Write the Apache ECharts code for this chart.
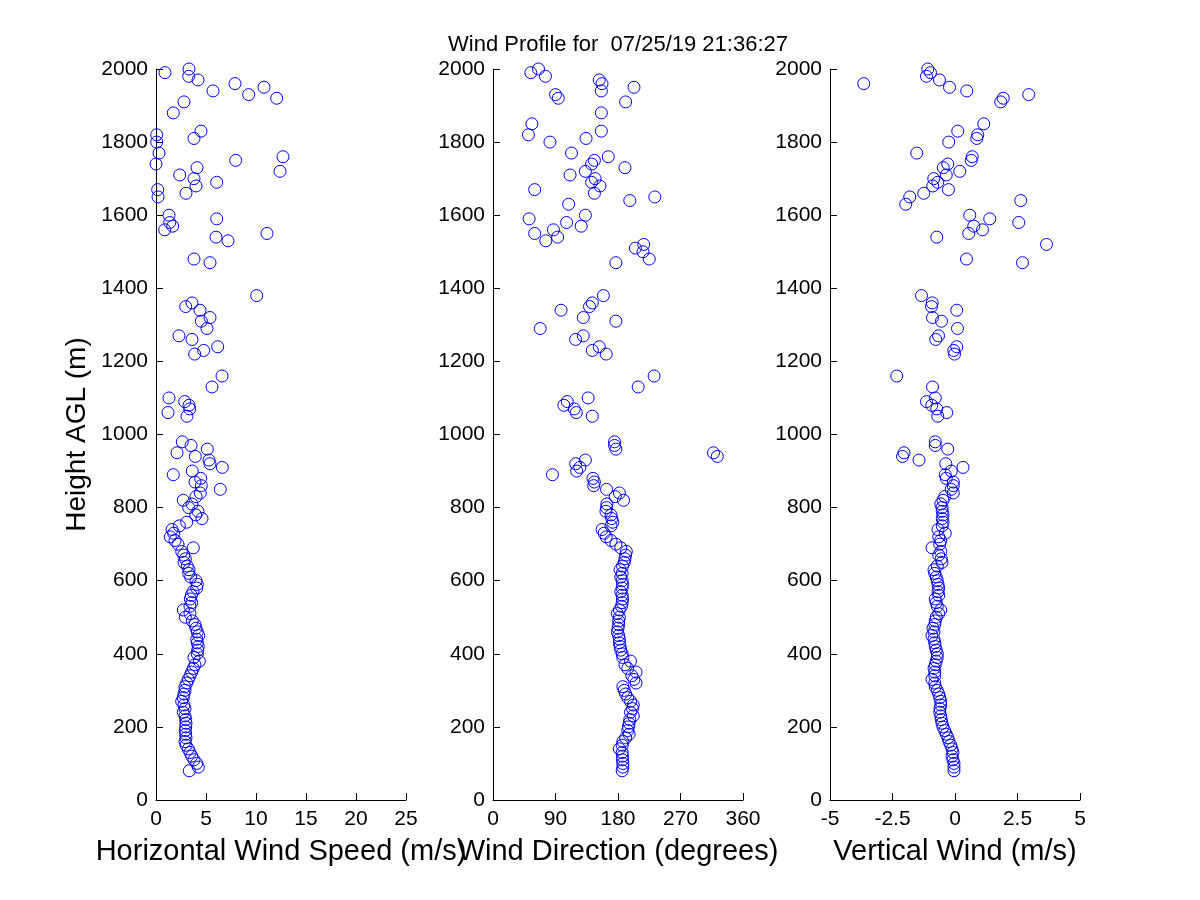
<!DOCTYPE html>
<html>
<head>
<meta charset="utf-8">
<script src="https://cdn.jsdelivr.net/npm/echarts@6/dist/echarts.min.js"></script>
<style>
html,body{margin:0;padding:0;background:#fff;}
#chart{width:1200px;height:900px;}
</style>
</head>
<body>
<div id="chart"></div>
<script>
// Heights (m AGL) of each measured gate
const heights = [
  2000,1990,1980,1970,1960,1950,1940,1930,1920,1910,
  1880,1850,1830,1820,1810,1800,
  1770,1760,1750,1740,1730,1720,1710,1700,1690,1680,1670,1660,1650,1640,1630,
  1600,1590,1580,1570,1560,1550,1540,1530,1520,1510,1500,
  1480,1470,
  1380,1360,1350,1340,
  1320,1310,1290,
  1270,1260,1240,1230,1220,
  1160,1130,
  1100,1090,1080,1070,1060,1050,
  980,970,960,950,940,930,920,910,900,890,880,870,860,850,840,830,820,810,
  800,790,780,770,760,750,740,730,720,710,
  700,690,680,670,660,650,640,630,620,610,
  600,590,580,570,560,550,540,530,520,510,
  500,490,480,470,460,450,440,430,420,410,
  400,390,380,370,360,350,340,330,320,310,
  300,290,280,270,260,250,240,230,220,210,
  200,190,180,170,160,150,140,130,120,110,
  100,90,80
];

// Horizontal wind speed (m/s)
const windSpeed = [
  3.3,0.9,3.27,4.2,7.9,10.8,5.7,9.27,12.07,2.8,
  1.73,null,4.5,0.07,3.8,0.07,
  0.3,12.7,7.97,0,4.1,12.4,2.37,3.8,6.07,4.0,0.17,3.0,0.2,null,null,
  1.3,6.07,1.37,1.67,0.87,11.1,6.0,7.2,null,null,null,
  3.8,5.4,
  10.07,3.6,2.97,4.4,
  5.4,4.53,5.1,
  2.3,3.6,6.17,4.77,3.87,
  6.6,5.6,
  1.3,2.87,3.3,3.37,1.2,3.1,
  2.63,3.5,5.13,2.1,3.93,5.3,5.4,6.63,3.63,1.73,4.47,3.9,4.53,6.43,4.43,4.0,2.73,3.6,
  3.27,4.2,3.97,4.6,3.07,2.33,1.6,1.77,1.43,1.9,
  2.2,3.73,2.57,2.77,2.93,2.8,3.13,3.3,3.27,3.47,
  4.0,4.13,4.07,3.7,3.53,3.43,3.57,3.4,2.73,3.4,
  2.93,3.63,3.9,4.0,4.13,4.27,4.07,4.13,4.23,4.17,
  4.13,3.8,4.33,3.9,3.73,3.57,3.4,3.23,3.07,2.9,
  2.9,2.8,2.73,2.57,2.8,2.9,2.73,2.9,2.97,3.0,
  2.97,2.93,2.97,3.0,2.9,3.0,3.23,3.4,3.57,3.8,
  4.07,4.23,3.33
];

// Wind direction (degrees)
const windDir = [
  65.5,54.5,75.5,153,157,203,156,90,94,191,
  156,56,156,51,134,82,
  113,166,146,142,190,133,111,147,142,154,60,146,233,197,109,
  133,52,106,127,87,60,93,76,217,205,216,
  225,177,
  159,143,139,98,
  130,177,68,
  130,119,153,143,163,
  232,209,
  137,107,102,117,120,143,
  175,175,177,317.5,323,133,119,125,120.5,85.6,144,146,145,163.5,182,176,188,164,
  163.5,162.6,170,171,172.6,170,157,160,163,170,
  177,184,192,191,190,189,186.5,183,186,184,
  186,186.5,186,184,186,186.5,186,185,182,179,
  182,181,181,180,179,181,182,182,183,184,
  186,187,198,190,194,206,200,203,206,187,
  189,191,194,198,202,201,198,202,197,196,
  195,194,196,191,187,186,182,186,186.5,186.5,
  187,187,186
];

// Vertical wind (m/s)
const vertWind = [
  -1.09,-0.98,-1.14,-0.62,-3.65,-0.22,0.47,2.95,1.93,1.83,
  null,1.15,0.11,0.91,0.87,-0.25,
  -1.53,0.69,0.65,-0.29,-0.47,0.19,-0.35,-0.85,-0.69,-0.89,-0.26,-1.25,-1.81,2.63,-1.97,
  0.59,1.39,2.55,0.75,1.1,0.55,-0.73,null,3.66,null,null,
  0.46,2.7,
  -1.34,-0.91,-0.94,0.07,
  -0.9,-0.54,0.1,
  -0.66,-0.77,0.07,-0.05,-0.02,
  -2.33,-0.9,
  -0.79,-1.14,-0.93,-0.73,-0.33,-0.69,
  -0.79,-0.79,-0.29,-2.04,-2.1,-1.44,-0.37,0.32,-0.15,-0.39,-0.35,-0.07,-0.07,-0.15,-0.07,-0.41,-0.48,-0.57,
  -0.52,-0.51,-0.48,-0.51,-0.48,-0.51,-0.68,-0.39,-0.65,-0.57,
  -0.61,-0.92,-0.57,-0.65,-0.55,-0.52,-0.71,-0.84,-0.81,-0.75,
  -0.71,-0.68,-0.65,-0.68,-0.65,-0.79,-0.75,-0.71,-0.57,-0.65,
  -0.75,-0.79,-0.81,-0.88,-0.84,-0.92,-0.84,-0.81,-0.79,-0.75,
  -0.71,-0.71,-0.75,-0.79,-0.84,-0.81,-0.81,-0.92,-0.81,-0.79,
  -0.71,-0.65,-0.61,-0.57,-0.57,-0.6,-0.61,-0.57,-0.55,-0.52,
  -0.48,-0.41,-0.35,-0.28,-0.24,-0.17,-0.12,-0.08,-0.12,-0.08,
  -0.04,-0.04,-0.04
];

const titleText = 'Wind Profile for  07/25/19 21:36:27';
const xNames = ['Horizontal Wind Speed (m/s)', 'Wind Direction (degrees)', 'Vertical Wind (m/s)'];
const yName = 'Height AGL (m)';
const xRanges = [[0, 25, 5], [0, 360, 90], [-5, 5, 2.5]];
const yRange = [0, 2000, 200];

const FONT = 'Liberation Sans, Arial, sans-serif';
const gridLefts = [156, 493, 830];

function pairs(vals) {
  const out = [];
  for (let i = 0; i < heights.length; i++) {
    if (vals[i] !== null && vals[i] !== undefined) out.push([vals[i], heights[i]]);
  }
  return out;
}

const chart = echarts.init(document.getElementById('chart'), null, {renderer: 'canvas'});

const plain = v => String(v);

const axisCommon = {
  axisLine: {show: true, onZero: false, lineStyle: {color: '#000', width: 1}},
  axisTick: {show: true, inside: true, length: 7, lineStyle: {color: '#000', width: 1}},
  splitLine: {show: false},
  axisLabel: {color: '#000', fontSize: 21, fontFamily: FONT, formatter: plain},
};

const option = {
  animation: false,
  backgroundColor: '#fff',
  grid: gridLefts.map(l => ({left: l, top: 69, width: 250, height: 731, containLabel: false})),
  xAxis: xRanges.map((r, i) => Object.assign({}, axisCommon, {
    type: 'value', gridIndex: i, min: r[0], max: r[1], interval: r[2],
    name: xNames[i], nameLocation: 'middle', nameGap: 37,
    nameTextStyle: {color: '#000', fontSize: 29, fontFamily: FONT},
    axisLabel: Object.assign({}, axisCommon.axisLabel, {margin: 9}),
  })),
  yAxis: [0, 1, 2].map(i => Object.assign({}, axisCommon, {
    type: 'value', gridIndex: i, min: yRange[0], max: yRange[1], interval: yRange[2],
    name: i === 0 ? yName : '', nameLocation: 'middle', nameGap: 65, nameRotate: 90,
    nameTextStyle: {color: '#000', fontSize: 28, fontFamily: FONT},
    axisLabel: Object.assign({}, axisCommon.axisLabel, {margin: 8}),
  })),
  graphic: [{
    type: 'text',
    style: {x: 618, y: 45, text: titleText, fill: '#000', font: '22px ' + FONT,
            textAlign: 'center', textVerticalAlign: 'middle'}
  }],
  series: [windSpeed, windDir, vertWind].map((vals, i) => ({
    type: 'scatter', xAxisIndex: i, yAxisIndex: i,
    data: pairs(vals),
    symbol: 'circle', symbolSize: 12,
    itemStyle: {color: 'rgba(0,0,0,0)', borderColor: '#0000ff', borderWidth: 1, opacity: 1},
    emphasis: {disabled: true},
    silent: true
  }))
};
chart.setOption(option);
</script>
</body>
</html>
